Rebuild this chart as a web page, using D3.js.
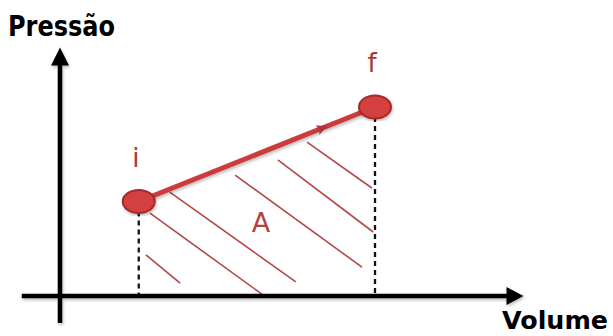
<!DOCTYPE html>
<html>
<head>
<meta charset="utf-8">
<script src="https://cdn.jsdelivr.net/npm/d3@7"></script>
<style>
  body { margin: 0; background: #fff; }
  svg { display: block; }
</style>
</head>
<body>
<svg width="613" height="336"></svg>
<script>
// states of the gas (volume, pressure) in arbitrary units
const stateNames = ['i', 'f']
const stateVolume = [1.75, 7]
const statePressure = [3.5, 7]

// hand drawn hatching of the area under the path (start / end of each stroke)
const hatchV0 = [1.91, 2.0, 2.44, 3.89, 4.84, 5.49]
const hatchP0 = [1.52, 3.07, 3.85, 4.48, 5.04, 5.70]
const hatchV1 = [2.67, 4.51, 5.24, 6.71, 6.96, 6.93]
const hatchP1 = [0.48, 0.04, 0.52, 1.07, 2.37, 4.0]

const axisNames = ['Volume', 'Pressão']
const areaName = 'A'

const svg = d3.select('svg')
const x = d3.scaleLinear().domain([0, 10]).range([60, 510])
const y = d3.scaleLinear().domain([0, 10]).range([296, 26])

const red = '#cc3b3b'
const darkRed = '#a83838'

const defs = svg.append('defs')
defs.append('filter').attr('id', 'shadow')
  .append('feDropShadow')
  .attr('dx', 1).attr('dy', 2).attr('stdDeviation', 1.5)
  .attr('flood-color', '#000').attr('flood-opacity', 0.25)

// hatching
svg.append('g').selectAll('line')
  .data(d3.range(hatchV0.length))
  .enter().append('line')
  .attr('x1', i => x(hatchV0[i]))
  .attr('y1', i => y(hatchP0[i]))
  .attr('x2', i => x(hatchV1[i]))
  .attr('y2', i => y(hatchP1[i]))
  .attr('stroke', '#b24848')
  .attr('stroke-width', 1.6)

// dashed drop lines
svg.append('g').selectAll('line')
  .data(stateVolume)
  .enter().append('line')
  .attr('x1', d => x(d))
  .attr('x2', d => x(d))
  .attr('y1', (d, i) => y(statePressure[i]) + 10)
  .attr('y2', y(0))
  .attr('stroke', '#111')
  .attr('stroke-width', 2.3)
  .attr('stroke-dasharray', '5,4')

// axes
const axes = svg.append('g').attr('filter', 'url(#shadow)')
axes.append('line')
  .attr('x1', x(-0.85)).attr('x2', x(10.05))
  .attr('y1', y(0)).attr('y2', y(0))
  .attr('stroke', '#000').attr('stroke-width', 4.5)
axes.append('path')
  .attr('d', 'M' + x(10.3) + ',' + y(0) + 'l-17,-9l0,18z')
  .attr('fill', '#000')
axes.append('line')
  .attr('x1', x(0)).attr('x2', x(0))
  .attr('y1', y(-1)).attr('y2', y(8.9))
  .attr('stroke', '#000').attr('stroke-width', 4.5)
axes.append('path')
  .attr('d', 'M' + x(0) + ',' + y(9.2) + 'l-9,18l18,0z')
  .attr('fill', '#000')

// path i -> f
const p0 = [x(stateVolume[0]), y(statePressure[0])]
const p1 = [x(stateVolume[1]), y(statePressure[1])]
svg.append('line')
  .attr('x1', p0[0]).attr('y1', p0[1])
  .attr('x2', p1[0]).attr('y2', p1[1])
  .attr('stroke', red).attr('stroke-width', 5)
  .attr('filter', 'url(#shadow)')

const t = 0.78
const ang = Math.atan2(p1[1] - p0[1], p1[0] - p0[0]) * 180 / Math.PI
svg.append('path')
  .attr('d', 'M5,0L-6,-5L-4,0L-6,5Z')
  .attr('transform', 'translate(' + (p0[0] + t * (p1[0] - p0[0])) + ',' + (p0[1] + t * (p1[1] - p0[1])) + ') rotate(' + ang + ')')
  .attr('fill', darkRed)

// states
svg.append('g').selectAll('ellipse')
  .data(stateVolume)
  .enter().append('ellipse')
  .attr('cx', d => x(d))
  .attr('cy', (d, i) => y(statePressure[i]))
  .attr('rx', 16).attr('ry', 11.5)
  .attr('fill', '#d43f3f')
  .attr('stroke', '#a52a2a')
  .attr('stroke-width', 2)
  .attr('filter', 'url(#shadow)')

svg.append('g').selectAll('text')
  .data(stateNames)
  .enter().append('text')
  .attr('x', (d, i) => x(stateVolume[i]) - 3)
  .attr('y', (d, i) => y(statePressure[i]) - 35)
  .attr('text-anchor', 'middle')
  .attr('font-family', 'DejaVu Sans, sans-serif')
  .attr('font-size', 26)
  .attr('fill', darkRed)
  .text(d => d)

svg.append('text')
  .attr('x', 261).attr('y', 232)
  .attr('text-anchor', 'middle')
  .attr('font-family', 'DejaVu Sans, sans-serif')
  .attr('font-size', 27)
  .attr('fill', '#b04444')
  .text(areaName)

// axis titles
svg.append('text')
  .attr('x', 502).attr('y', 329)
  .attr('font-family', 'DejaVu Sans, sans-serif')
  .attr('font-weight', 'bold')
  .attr('font-size', 25)
  .attr('textLength', 106)
  .attr('lengthAdjust', 'spacingAndGlyphs')
  .text(axisNames[0])

svg.append('text')
  .attr('x', 8).attr('y', 36)
  .attr('font-family', 'DejaVu Sans, sans-serif')
  .attr('font-weight', 'bold')
  .attr('font-size', 28)
  .attr('textLength', 107)
  .attr('lengthAdjust', 'spacingAndGlyphs')
  .text(axisNames[1])
</script>
</body>
</html>
